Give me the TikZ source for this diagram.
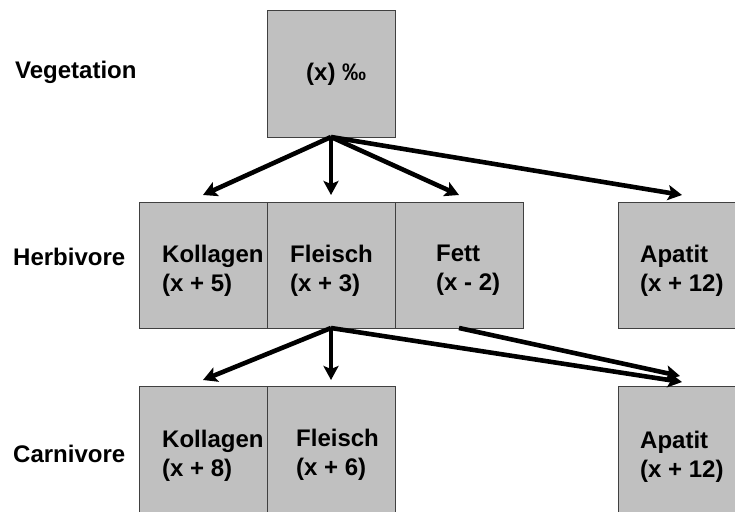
\documentclass[tikz,border=0pt]{standalone}
\usepackage{fontspec}
\setmainfont{Liberation Sans}
\usetikzlibrary{arrows.meta}
\begin{document}
\begin{tikzpicture}[x=1pt,y=-1pt,
  box/.style={draw=black!75,line width=0.9pt,fill={rgb,255:red,192;green,192;blue,192},minimum width=128pt,minimum height=127pt,inner sep=0pt,outer sep=0pt},
  txt/.style={anchor=base west,inner sep=0pt,align=left,font=\fontsize{24}{29}\selectfont\bfseries},
  arr/.style={line width=4.6pt,-{Stealth[length=14pt,width=15pt,inset=3pt]}}]
\clip (0,0) rectangle (735,511);
\fill[white] (0,0) rectangle (735,511);
% boxes
\node[box] (veg) at (331,73.5) {};
\node[box,minimum height=126pt] (hk) at (203,265) {};
\node[box,minimum height=126pt] (hf) at (331,265) {};
\node[box,minimum height=126pt] (hft) at (459,265) {};
\node[box,minimum height=126pt] (ha) at (682,265) {};
\node[box] (ck) at (203,449.5) {};
\node[box] (cf) at (331,449.5) {};
\node[box] (ca) at (682,449.5) {};
% row labels
\node[txt] (lv) at (15,78) {Vegetation};
\node[txt] (lh) at (13,265) {Herbivore};
\node[txt] (lc) at (13,462) {Carnivore};
% box texts (anchor = baseline of the last line)
\node[txt] (tveg) at (306,80) {(x) ‰};
\node[txt] (thk) at (162,291) {Kollagen\\(x + 5)};
\node[txt] (thf) at (290,291) {Fleisch\\(x + 3)};
\node[txt] (thft) at (436,290) {Fett\\(x - 2)};
\node[txt] (tha) at (640,291) {Apatit\\(x + 12)};
\node[txt] (tck) at (162,476) {Kollagen\\(x + 8)};
\node[txt] (tcf) at (296,475) {Fleisch\\(x + 6)};
\node[txt] (tca) at (640,477) {Apatit\\(x + 12)};
% arrows
\draw[arr] (veg.south) -- ([yshift=7pt]hk.north);
\draw[arr] (veg.south) -- ([yshift=7pt]hf.north);
\draw[arr] (veg.south) -- ([yshift=7pt]hft.north);
\draw[arr] (veg.south) -- ([yshift=7pt]ha.north);
\draw[arr] (hf.south) -- ([yshift=6pt]ck.north);
\draw[arr] (hf.south) -- ([yshift=6pt]cf.north);
\draw[arr] (hf.south) -- ([yshift=4pt]ca.north);
\draw[arr] (hft.south) -- ([xshift=-2pt,yshift=10pt]ca.north);
\end{tikzpicture}
\end{document}
